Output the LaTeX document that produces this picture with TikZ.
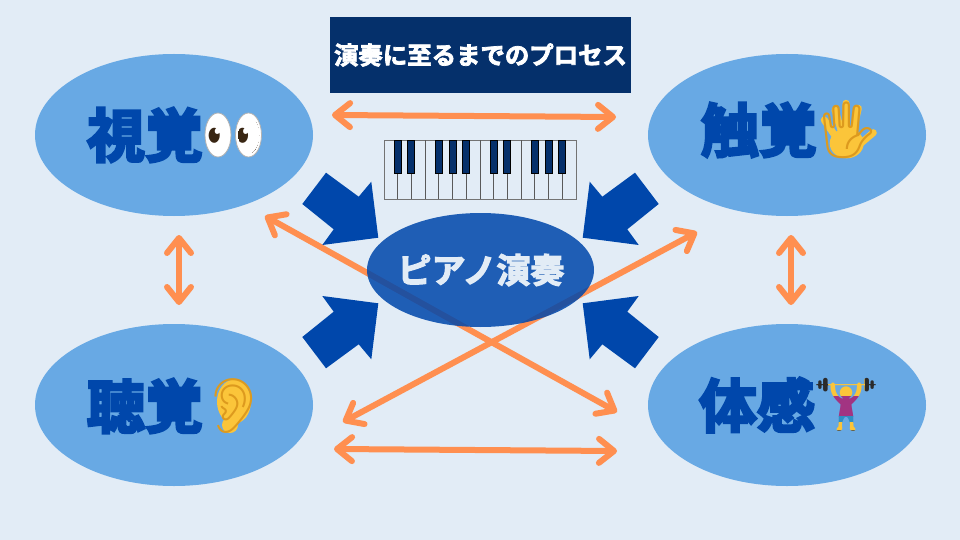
\documentclass[tikz,border=0pt]{standalone}
\usepackage{xcolor}
\usepackage{fontspec}
\usetikzlibrary{arrows.meta,shapes.geometric}
\newfontfamily\jpfont[FakeBold=4.5]{Noto Sans CJK JP Bold}
\newfontfamily\jpmid[FakeBold=3.5]{Noto Sans CJK JP Bold}
\newfontfamily\jpsmall[FakeBold=3]{Noto Sans CJK JP Bold}
\newfontfamily\emojifont{Noto Emoji}
\definecolor{pagebg}{HTML}{E2ECF6}
\definecolor{sensefill}{HTML}{68A9E4}
\definecolor{deepblue}{HTML}{0047AB}
\definecolor{navy}{HTML}{05306B}
\definecolor{linkorange}{HTML}{FF8F50}
\definecolor{skin}{HTML}{FBC53A}
\definecolor{skinline}{HTML}{DD9A1E}
\definecolor{lifter}{HTML}{A23482}
\definecolor{kneeblue}{HTML}{2F8FC4}
\definecolor{plate}{HTML}{2B2B2B}
\newcommand{\sz}[1]{\fontsize{#1}{#1}\selectfont}
\tikzset{
  sense/.style={ellipse,fill=sensefill,minimum width=278pt,minimum height=162pt,inner sep=0pt},
  senselabel/.style={text=deepblue,inner sep=0pt,font=\jpfont\sz{58}},
  emoji/.style={inner sep=0pt,font=\emojifont\sz{#1}},
  link/.style={draw=linkorange,line width=6pt,line cap=round,
    {Straight Barb[round,length=15pt,width=24pt]}-{Straight Barb[round,length=15pt,width=24pt]}},
  blockarrow/.style={fill=deepblue},
  finger/.style={draw=skin,line width=7pt,line cap=round},
}
\begin{document}
\begin{tikzpicture}[x=1pt,y=-1pt]
\useasboundingbox[fill=pagebg] (0,0) rectangle (960,540);
% sense ovals
\node[sense] (sight) at (174,135) {};
\node[sense] (touch) at (787,135) {};
\node[sense] (hearing) at (174,405) {};
\node[sense] (body) at (787,405) {};
\node[senselabel] (sightlabel) at (145,135) {視覚};
\node[senselabel] (touchlabel) at (759,130) {触覚};
\node[senselabel] (hearinglabel) at (145,406) {聴覚};
\node[senselabel] (bodylabel) at (757,405) {体感};
% eyes
\draw[fill=white,draw=black!30,line width=.8pt] (218,135) ellipse (13pt and 22pt) (248.5,135) ellipse (13pt and 22pt);
\begin{scope}
  \clip (218,135) ellipse (10.5pt and 18.5pt) (248.5,135) ellipse (10.5pt and 18.5pt);
  \node[emoji=50,text=black!70!brown] (eyes) at (233.5,135) {\char"1F440};
\end{scope}
% hand
\fill[skin] (846.7,143.3) ellipse (17pt and 15pt);
\path[finger] (824.3,120) -- (840,143) (835,110) -- (843,137) (846,103.3) -- (846.7,137)
  (858.3,108.3) -- (851.7,137) (873.3,132.7) -- (856.7,146.7);
\node[emoji=56,text=skinline] (hand) at (848,130) {\char"1F590};
% ear
\fill[skin] (234,401.7) ellipse (17pt and 22pt) (230,425) circle (8pt);
\node[emoji=54,text=skinline] (ear) at (234,406) {\char"1F442};
% weightlifter, one glyph in coloured bands
\foreach \col/\xa/\ya/\xb/\yb/\nm in {plate/810/370/828/400/a,plate/864/370/885/400/b,
  skin/828/370/864/396/c,lifter/828/396/864/416/d,kneeblue/828/416/864/422/e,
  skin/828/422/864/430/f,plate/828/430/864/440/g}
{
  \begin{scope}
    \clip (\xa,\ya) rectangle (\xb,\yb);
    \node[emoji=52,text=\col,name=lift\nm] at (846,405) {\char"1F3CB};
  \end{scope}
}
% title and piano
\node[fill=navy,text=white,minimum width=301pt,minimum height=76pt,inner sep=0pt,font=\jpsmall\sz{24.4}]
  (title) at (480.5,55) {演奏に至るまでのプロセス};
\draw[black!55,line width=.8pt] (384,140.5) rectangle (576,199);
\foreach \k in {1,...,13}
  \draw[black!65,line width=.8pt] (384+13.71*\k,140.5) -- (384+13.71*\k,199);
\foreach \k in {1,2,4,5,6,8,9,11,12,13}
  \draw[fill=navy,draw=black,line width=1pt] (380.5+13.71*\k,141) rectangle (387.5+13.71*\k,174);
% link ends
\coordinate (tl) at (332,115);
\coordinate (tr) at (616,117);
\coordinate (bl) at (334,449);
\coordinate (br) at (617,451);
\coordinate (lt) at (179,235);
\coordinate (lb) at (179,305);
\coordinate (rt) at (791,235);
\coordinate (rb) at (791,305);
\coordinate (dtl) at (265,216);
\coordinate (dbr) at (617,412);
\coordinate (dbl) at (343,422);
\coordinate (dtr) at (697,232);
\path[every edge/.style={link}] (tl) edge (tr) (bl) edge (br) (lt) edge (lb) (rt) edge (rb)
  (dtl) edge (dbr) (dbl) edge (dtr);
% block arrows
\foreach \sx/\sy in {1/1,-1/1,1/-1,-1/-1}
  \fill[blockarrow,shift={(480.5,270.5)},xscale=\sx,yscale=\sy]
    (-178.2,-66.5) -- (-154.5,-97.8) -- (-121.8,-73.8) -- (-109.2,-88.8)
    -- (-102.2,-32.8) -- (-158.2,-25.5) -- (-146.8,-41.2) -- cycle;
% centre oval
\node[ellipse,fill=deepblue,fill opacity=.86,minimum width=227pt,minimum height=114pt,inner sep=0pt]
  (piano) at (480.5,270) {};
\node[text=pagebg,inner sep=0pt,font=\jpmid\sz{34}] (pianolabel) at (481,270) {ピアノ演奏};
\end{tikzpicture}
\end{document}
